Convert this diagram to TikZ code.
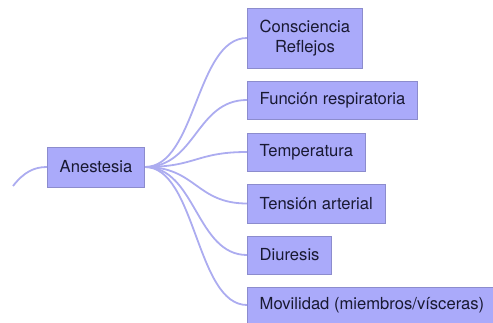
\documentclass[tikz,border=0pt]{standalone}
\usepackage{fontspec}
\setmainfont{TeX Gyre Heros}
\definecolor{boxfill}{RGB}{170,170,250}
\definecolor{boxline}{RGB}{140,140,205}
\definecolor{linkc}{RGB}{172,172,240}
\definecolor{txt}{RGB}{25,25,50}
\pgfdeclarelayer{bg}
\pgfsetlayers{bg,main}
\tikzset{
  topic/.style={draw=boxline, line width=0.8pt, fill=boxfill, text=txt,
    font=\fontsize{16.6}{20.5}\selectfont, inner xsep=12.3pt, inner ysep=0pt,
    minimum height=38pt, align=center},
  link/.style={draw=linkc, line width=1.8pt}
}
\begin{document}
\begin{tikzpicture}[x=1pt,y=-1pt]
\useasboundingbox (0,0) rectangle (493,323);
\node[topic, minimum width=96pt, minimum height=40pt] (a) at (96,167) {Anestesia};
\node[topic, anchor=west, minimum height=60pt] (c1) at (247,38) {Consciencia\\Reflejos};
\node[topic, anchor=west] (c2) at (247,100) {Función respiratoria};
\node[topic, anchor=west] (c3) at (247,152) {Temperatura};
\node[topic, anchor=west, minimum height=39pt] (c4) at (247,203.5) {Tensión arterial};
\node[topic, anchor=west] (c5) at (247,255) {Diuresis};
\node[topic, anchor=west, minimum height=36pt] (c6) at (247,305) {Movilidad (miembros/vísceras)};
\coordinate (p) at (13,186);
\begin{pgfonlayer}{bg}
\draw[link] (p) .. controls (24,172) and (34,167) .. (a.west);
\foreach \c in {c1,c2,c3,c4,c5,c6}{
  \draw[link] (a.east) .. controls +(51,0) and +(-51,0) .. (\c.west);
}
\end{pgfonlayer}
\end{tikzpicture}
\end{document}
